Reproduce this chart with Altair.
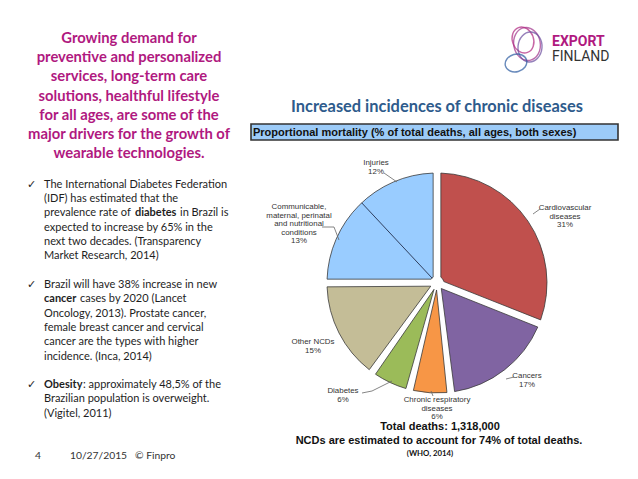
import altair as alt
import pandas as pd

# ---------------- data ----------------
categories = [
    "Cardiovascular diseases",
    "Cancers",
    "Chronic respiratory diseases",
    "Diabetes",
    "Other NCDs",
    "Communicable, maternal, perinatal and nutritional conditions",
    "Injuries",
]
shares = [31, 17, 6, 6, 15, 13, 12]
groups = ["ncd", "ncd", "ncd", "ncd", "ncd", "other", "other"]
label_names = [
    ["Cardiovascular", "diseases"],
    ["Cancers"],
    ["Chronic respiratory", "diseases"],
    ["Diabetes"],
    ["Other NCDs"],
    ["Communicable,", "maternal, perinatal", "and nutritional", "conditions"],
    ["Injuries"],
]
slice_colors = ["#c0504d", "#8064a2", "#f79646", "#9bbb59", "#c4bd97", "#99ccff", "#99ccff"]

heading_lines = [
    "Growing demand for",
    "preventive and personalized",
    "services, long-term care",
    "solutions, healthful lifestyle",
    "for all ages, are some of the",
    "major drivers for the growth of",
    "wearable technologies.",
]
chart_title = "Increased incidences of chronic diseases"
box_title = "Proportional mortality (% of total deaths, all ages, both sexes)"
total_line = "Total deaths: 1,318,000"
ncd_line = "NCDs are estimated to account for 74% of total deaths."
source_line = "(WHO, 2014)"

# bullets: each line is a list of (text, bold) segments
bullet1 = [
    [("The International Diabetes Federation", False)],
    [("(IDF) has estimated that the", False)],
    [("prevalence rate of", False), ("diabetes", True), ("in Brazil is", False)],
    [("expected to increase by 65% in the", False)],
    [("next two decades. (Transparency", False)],
    [("Market Research, 2014)", False)],
]
bullet2 = [
    [("Brazil will have 38% increase in new", False)],
    [("cancer", True), ("cases by 2020 (Lancet", False)],
    [("Oncology, 2013). Prostate cancer,", False)],
    [("female breast cancer and cervical", False)],
    [("cancer are the types with higher", False)],
    [("incidence. (Inca, 2014)", False)],
]
bullet3 = [
    [("Obesity", True), (": approximately 48,5% of the", False)],
    [("Brazilian population is overweight.", False)],
    [("(Vigitel, 2011)", False)],
]
footer = ["4", "10/27/2015", "\u00a9 Finpro"]

# ---------------- layout ----------------
M = 8
CX, CY = 437, 283
R, IR, PAD = 110, 7, 0.07
label_anchor = [(565, 208), (527, 376), (437, 400), (343, 391), (313, 342), (299, 207), (376, 163)]
LABEL_DY = 8.6
bullet_tops = [184.5, 285, 385]
BULLET_DY = 14.35
TEXT_X = 44
seg_x = {  # x positions of segments around a bold word (page px)
    (0, 2): [44, 135, 180],
    (1, 1): [44, 80],
    (2, 0): [44, 83],
}
leaders = [
    [(384, 173), (397, 182)],
    [(322, 227), (334, 227), (339, 240)],
    [(540, 209), (533, 214)],
    [(514, 377), (506, 379)],
    [(433, 396), (431, 391)],
    [(362, 393), (372, 391), (392, 381)],
]
BODY_FONT = "Lato"
ARIAL = "Liberation Sans"


def px(v):
    return v - M


def lines_layer(lines, x, y0, dy, size, weight="normal", color="#222222", align="left", font=BODY_FONT):
    df = pd.DataFrame({
        "t": lines,
        "x": [px(x)] * len(lines),
        "y": [px(y0 + i * dy) for i in range(len(lines))],
    })
    return alt.Chart(df).mark_text(
        fontSize=size, fontWeight=weight, color=color, align=align, baseline="middle", font=font
    ).encode(
        x=alt.X("x:Q", scale=None, axis=None),
        y=alt.Y("y:Q", scale=None, axis=None),
        text="t:N",
    )


def rows_layer(rows, size, weight, color, align="left", font=BODY_FONT):
    df = pd.DataFrame(rows, columns=["t", "x", "y"])
    df["x"] = df["x"].map(px)
    df["y"] = df["y"].map(px)
    return alt.Chart(df).mark_text(
        fontSize=size, fontWeight=weight, color=color, align=align, baseline="middle", font=font
    ).encode(
        x=alt.X("x:Q", scale=None, axis=None),
        y=alt.Y("y:Q", scale=None, axis=None),
        text="t:N",
    )


layers = []

# ---------- left heading ----------
layers.append(lines_layer(heading_lines, 129, 39, 19.2, 14.8, "bold", "#b0197f", "center"))

# ---------- bullets ----------
normal_rows, bold_rows, checks = [], [], []
for b, (bullet, top) in enumerate(zip([bullet1, bullet2, bullet3], bullet_tops)):
    checks.append(("\u2713", 27, top))
    for li, segs in enumerate(bullet):
        y = top + li * BULLET_DY
        xs = seg_x.get((b, li), [TEXT_X])
        for (s, is_bold), x in zip(segs, xs):
            (bold_rows if is_bold else normal_rows).append((s, x, y))
layers.append(rows_layer(normal_rows, 11, "normal", "#1e1e1e"))
layers.append(rows_layer(bold_rows, 11, "bold", "#1e1e1e"))
layers.append(rows_layer(checks, 11, "normal", "#1e1e1e", font="DejaVu Sans"))

# footer
layers.append(rows_layer([(footer[0], 35, 456), (footer[1], 70, 456), (footer[2], 135, 456)],
                         10.3, "normal", "#333333"))

# ---------- right title and box ----------
layers.append(rows_layer([(chart_title, 437, 107)], 16.4, "bold", "#2e5b8c", "center"))
box = alt.Chart(pd.DataFrame({"a": [0]})).mark_rect(
    fill="#9ccbf8", stroke="#333333", strokeWidth=1.6
).encode(
    x=alt.value(px(251)), x2=alt.value(px(618)), y=alt.value(px(124)), y2=alt.value(px(140))
)
layers.append(box)
layers.append(rows_layer([(box_title, 253, 132.5)], 11, "bold", "#111111", font=ARIAL))

# ---------- pie ----------
pie_df = pd.DataFrame({"cat": categories, "share": shares, "idx": list(range(len(shares))), "grp": groups})
base = alt.Chart(pie_df).transform_window(
    cum="sum(share)", sort=[alt.SortField("idx")], frame=[None, 0]
).transform_calculate(start="datum.cum - datum.share")
theta_scale = alt.Scale(domain=[0, 100], range=[0, 6.283185307179586])
arc_props = dict(outerRadius=R, innerRadius=IR, padAngle=PAD, stroke="#3a3a3a", strokeWidth=0.8)

ncd_arcs = base.transform_filter("datum.grp == 'ncd'").mark_arc(**arc_props).encode(
    theta=alt.Theta("start:Q", scale=theta_scale),
    theta2="cum:Q",
    color=alt.Color("cat:N", scale=alt.Scale(domain=categories, range=slice_colors), legend=None),
    x=alt.value(px(CX)), y=alt.value(px(CY)),
)
other_arc = base.transform_filter("datum.grp == 'other'").transform_aggregate(
    start="min(start)", cum="max(cum)"
).mark_arc(fill="#99ccff", **arc_props).encode(
    theta=alt.Theta("start:Q", scale=theta_scale),
    theta2="cum:Q",
    x=alt.value(px(CX)), y=alt.value(px(CY)),
)
sep = base.transform_joinaggregate(
    s0="min(start)", s1="max(cum)", groupby=["grp"]
).transform_filter("datum.grp == 'other' && datum.start > datum.s0").transform_calculate(
    amid="(datum.s0 + datum.s1) / 100 * PI"
).transform_calculate(
    a="datum.start / 50 * PI"
).transform_calculate(
    xa=f"{px(CX)} + {IR} * sin(datum.amid)",
    ya=f"{px(CY)} - {IR} * cos(datum.amid)",
    xb=f"{px(CX)} + {R} * sin(datum.a)",
    yb=f"{px(CY)} - {R} * cos(datum.a)",
).mark_rule(color="#2f3f5f", strokeWidth=1).encode(
    x=alt.X("xa:Q", scale=None, axis=None), y=alt.Y("ya:Q", scale=None, axis=None),
    x2="xb:Q", y2="yb:Q",
)
layers += [ncd_arcs, other_arc, sep]

# pie labels
label_rows = []
for names, share, (lx, ly) in zip(label_names, shares, label_anchor):
    for i, s in enumerate(names + [f"{share}%"]):
        label_rows.append((s, lx, ly + i * LABEL_DY))
layers.append(rows_layer(label_rows, 7.9, "normal", "#333333", "center", ARIAL))

# leader lines
lead_rows = []
for k, pts in enumerate(leaders):
    for j, (x, y) in enumerate(pts):
        lead_rows.append({"k": k, "j": j, "x": px(x), "y": px(y)})
leader_layer = alt.Chart(pd.DataFrame(lead_rows)).mark_line(color="#666666", strokeWidth=0.8).encode(
    x=alt.X("x:Q", scale=None, axis=None), y=alt.Y("y:Q", scale=None, axis=None),
    detail="k:N", order="j:Q",
)
layers.append(leader_layer)

# bottom texts
layers.append(rows_layer([(total_line, 440, 427), (ncd_line, 439, 441)], 11, "bold", "#111111", "center", ARIAL))
layers.append(rows_layer([(source_line, 430, 454)], 7.8, "bold", "#111111", "center"))

# ---------- logo ----------
ellipse = "M -1 0 A 1 0.8 0 1 0 1 0 A 1 0.8 0 1 0 -1 0 Z"
loops = pd.DataFrame({
    "x": [px(527), px(523), px(530), px(516)],
    "y": [px(44), px(40), px(47), px(63)],
    "s": [1100, 700, 900, 480],
    "a": [80, 70, 95, -15],
    "c": ["#a0338c", "#b0267f", "#6a4c9e", "#2a5aa0"],
})
logo_loops = alt.Chart(loops).mark_point(shape=ellipse, filled=False, strokeWidth=1.4).encode(
    x=alt.X("x:Q", scale=None, axis=None), y=alt.Y("y:Q", scale=None, axis=None),
    size=alt.Size("s:Q", scale=None, legend=None),
    angle=alt.Angle("a:Q", scale=None),
    color=alt.Color("c:N", scale=None, legend=None),
)
layers.append(logo_loops)
layers.append(rows_layer([("EXPORT", 552, 42)], 14, "bold", "#b0197f", font="Roboto"))
layers.append(rows_layer([("FINLAND", 552, 57)], 14, "normal", "#333333", font="Roboto"))

chart = alt.layer(*layers).properties(
    width=638 - 2 * M,
    height=479 - 2 * M,
    autosize=alt.AutoSizeParams(type="fit", contains="padding"),
    padding=0,
    background="white",
).configure_view(stroke=None)

chart.save("out.html", embed_options={"renderer": "svg", "actions": False})
